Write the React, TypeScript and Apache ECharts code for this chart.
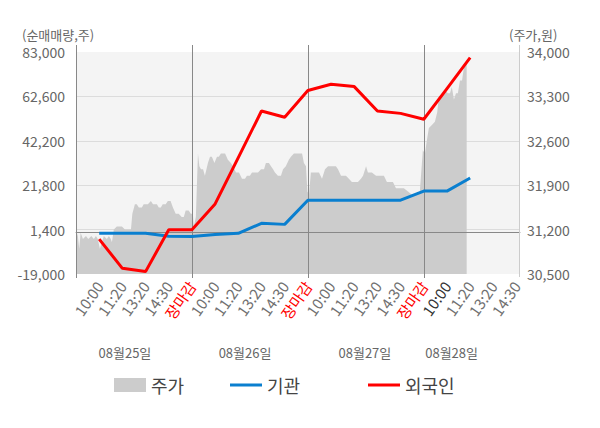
import React, { useEffect, useRef } from 'react';
import * as echarts from 'echarts';

const FONT = 'Noto Sans CJK KR';

// x axis: slots (each slot = one investor estimate time)
const slotLabels = ['', '10:00', '11:20', '13:20', '14:30', '장마감', '10:00', '11:20', '13:20', '14:30', '장마감', '10:00', '11:20', '13:20', '14:30', '장마감', '10:00', '11:20', '13:20', '14:30'];
const labelSlots = [1, 2, 3, 4, 5, 6, 7, 8, 9, 10, 11, 12, 13, 14, 15, 16, 17, 18, 19];
const closeLabel = '장마감';
const currentDayOpenSlot = 16;
const daySeparatorSlots = [5, 10, 15];
const dayLabels = ['08월25일', '08월26일', '08월27일', '08월28일'];
const dayLabelSlots = [2.11, 7.29, 12.46, 16.2];
const xMax = 19.15;

// y axes
const volumeTicks = [-19000, 1400, 21800, 42200, 62600, 83000];
const volumeSplitTicks = [1400, 21800, 42200, 62600];
const priceTicks = [30500, 31200, 31900, 32600, 33300, 34000];

// investor net buying (shares)
const investorSlots = [1, 2, 3, 4, 5, 6, 7, 8, 9, 10, 11, 12, 13, 14, 15, 16, 17];
const institutionNet = [-300, -300, -300, -1700, -1800, -800, -300, 4300, 3800, 14900, 14900, 14900, 14900, 14900, 19100, 19100, 25100];
const foreignNet = [-3000, -16400, -17900, 1300, 1300, 13200, 34500, 55900, 53000, 65300, 68200, 67100, 55900, 54800, 52100, 66200, 80400];

// stock price (won), positions in slot units
const priceSlots = [
  0, 0.08, 0.14, 0.2, 0.3, 0.43, 0.53, 0.66, 0.77, 0.86, 0.94, 1.03, 1.12, 1.2, 1.33, 1.42, 1.5, 1.55, 1.63, 1.76, 1.89, 1.98, 2.11, 2.28, 2.37, 2.43, 2.54, 2.62, 2.71, 2.84, 2.92, 3.01, 3.1, 3.23, 3.32, 3.39, 3.49, 3.57, 3.66, 3.74, 3.87, 3.96, 4.08, 4.18, 4.3, 4.43, 4.56, 4.65, 4.73, 4.86, 4.95, 5.04, 5.08, 5.17,
  5.26, 5.32, 5.39, 5.48, 5.56, 5.69, 5.78, 5.86, 5.97, 6.08, 6.16, 6.25, 6.34, 6.43, 6.55, 6.68, 6.77, 6.9, 7.03, 7.16, 7.29, 7.37, 7.5, 7.59, 7.76, 7.85, 7.98, 8.11, 8.19, 8.32, 8.41, 8.5, 8.58, 8.71, 8.84, 8.93, 9.05, 9.18, 9.27, 9.4, 9.53, 9.66, 9.75, 9.83, 9.92,
  9.98, 10.05, 10.13, 10.22, 10.35, 10.48, 10.61, 10.74, 10.87, 11.0, 11.12, 11.21, 11.3, 11.43, 11.56, 11.64, 11.77, 11.9, 12.03, 12.16, 12.29, 12.38, 12.51, 12.59, 12.76, 12.94, 13.11, 13.28, 13.41, 13.54, 13.67, 13.8, 13.97, 14.14, 14.32, 14.49, 14.66, 14.83,
  14.96, 15.05, 15.13, 15.22, 15.35, 15.48, 15.58, 15.65, 15.78, 15.91, 16.04, 16.13, 16.21, 16.3, 16.39, 16.47, 16.56, 16.65, 16.73, 16.85,
];
const priceValues = [
  31200, 31100, 30900, 31150, 31050, 31100, 31050, 31100, 31050, 31100, 31050, 30900, 31000, 31100, 31050, 31100, 31050, 31000, 31200, 31250, 31250, 31250, 31200, 31200, 31200, 31450, 31600, 31600, 31550, 31550, 31600, 31600, 31600, 31650, 31600, 31600, 31600, 31550, 31550, 31600, 31600, 31650, 31650, 31550, 31450, 31450, 31400, 31400, 31500, 31500, 31450, 31450, 31250, 31400,
  32400, 32200, 32150, 32150, 32050, 32250, 32350, 32350, 32250, 32350, 32350, 32400, 32400, 32400, 32300, 32250, 32200, 32100, 32100, 32000, 32000, 32050, 32050, 32100, 32100, 32100, 32150, 32150, 32250, 32250, 32200, 32150, 32100, 32050, 32050, 32150, 32200, 32300, 32350, 32400, 32400, 32400, 32400, 32250, 32200,
  31800, 31750, 32100, 32100, 32100, 32100, 32000, 32150, 32200, 32200, 32200, 32200, 32150, 32050, 32050, 32050, 32000, 31950, 31950, 31950, 32000, 32050, 32200, 32100, 32100, 32050, 32050, 32050, 31950, 31950, 31950, 31850, 31850, 31850, 31800, 31750, 31750, 31800,
  32450, 32400, 32600, 32800, 32850, 32900, 33050, 33300, 33300, 33400, 33350, 33350, 33450, 33250, 33350, 33350, 33550, 33550, 33750, 33850,
];

const fmt = (v: number) => v.toLocaleString('en-US');

export default function App() {
  const ref = useRef<HTMLDivElement>(null);

  useEffect(() => {
    if (!ref.current) return;
    const chart = echarts.init(ref.current, undefined, { renderer: 'svg' });

    const legendBase = {
      top: 376,
      padding: 0,
      itemWidth: 32,
      itemGap: 10,
      selectedMode: false,
      textStyle: { fontSize: 18, color: '#444', fontFamily: FONT },
    };

    const richBase = { fontSize: 15, fontFamily: FONT };

    const option: any = {
      animation: false,
      backgroundColor: '#ffffff',
      textStyle: { fontFamily: FONT },
      grid: {
        left: 76,
        right: 80,
        top: 52,
        bottom: 154,
        containLabel: false,
        show: true,
        backgroundColor: '#f4f4f4',
        borderWidth: 0,
      },
      legend: [
        { ...legendBase, left: 114, itemHeight: 14, data: [{ name: '주가', icon: 'rect' }] },
        { ...legendBase, left: 230, itemHeight: 3, data: [{ name: '기관', icon: 'rect' }] },
        { ...legendBase, left: 368, itemHeight: 3, data: [{ name: '외국인', icon: 'rect' }] },
      ],
      xAxis: {
        type: 'value',
        min: 0,
        max: xMax,
        axisLine: { show: true, lineStyle: { color: '#999', width: 1 } },
        axisTick: { show: false, customValues: [0] },
        splitLine: { show: false },
        axisLabel: {
          customValues: labelSlots,
          rotate: 55,
          margin: 9,
          formatter: (v: number) => {
            const i = Math.round(v);
            const t = slotLabels[i] || '';
            if (t === closeLabel) return `{r|${t}}`;
            if (i === currentDayOpenSlot) return `{d|${t}}`;
            return `{g|${t}}`;
          },
          rich: {
            r: { ...richBase, color: '#ff0000' },
            d: { ...richBase, color: '#333333' },
            g: { ...richBase, color: '#707070' },
          },
        },
      },
      yAxis: [
        {
          type: 'value',
          min: volumeTicks[0],
          max: volumeTicks[volumeTicks.length - 1],
          position: 'left',
          axisLine: { show: false },
          axisTick: { show: false, customValues: volumeSplitTicks },
          splitLine: { show: true, lineStyle: { color: '#dcdcdc', width: 1 } },
          axisLabel: {
            customValues: volumeTicks,
            formatter: (v: number) => fmt(v),
            color: '#666',
            fontSize: 14,
            fontFamily: FONT,
            margin: 11,
          },
        },
        {
          type: 'value',
          min: priceTicks[0],
          max: priceTicks[priceTicks.length - 1],
          position: 'right',
          axisLine: { show: false },
          axisTick: { show: false, customValues: priceTicks },
          splitLine: { show: false },
          axisLabel: {
            customValues: priceTicks,
            formatter: (v: number) => fmt(v),
            color: '#666',
            fontSize: 14,
            fontFamily: FONT,
            margin: 7,
          },
        },
      ],
      series: [
        {
          name: '주가',
          type: 'line',
          yAxisIndex: 1,
          data: priceSlots.map((s, i) => [s, priceValues[i]]),
          symbol: 'none',
          color: '#cccccc',
          itemStyle: { color: '#cccccc' },
          lineStyle: { width: 0, color: '#cccccc' },
          areaStyle: { color: '#cccccc', opacity: 1, origin: 'start' },
          z: 2,
          silent: true,
        },
        {
          name: '기관',
          type: 'line',
          yAxisIndex: 0,
          data: investorSlots.map((s, i) => [s, institutionNet[i]]),
          symbol: 'none',
          color: '#0a7fcf',
          itemStyle: { color: '#0a7fcf' },
          lineStyle: { width: 3, color: '#0a7fcf' },
          z: 5,
          markLine: {
            silent: true,
            symbol: 'none',
            label: { show: false },
            lineStyle: { color: '#888', width: 1, type: 'solid' },
            data: [{ yAxis: 0 }],
            z: 3,
          },
        },
        {
          name: '외국인',
          type: 'line',
          yAxisIndex: 0,
          data: investorSlots.map((s, i) => [s, foreignNet[i]]),
          symbol: 'none',
          color: '#ff0000',
          itemStyle: { color: '#ff0000' },
          lineStyle: { width: 3, color: '#ff0000' },
          z: 6,
        },
      ],
    };

    chart.setOption(option);

    const xs = (s: number) => Math.round(chart.convertToPixel({ xAxisIndex: 0 }, s) as number) + 0.5;
    const graphics: any[] = [];
    [0, ...daySeparatorSlots].forEach((s) => {
      const x = xs(s);
      graphics.push({
        type: 'line',
        z: 4,
        silent: true,
        shape: { x1: x, y1: 45, x2: x, y2: 278 },
        style: { stroke: '#888', lineWidth: 1 },
      });
    });
    const xr = xs(xMax) - 1;
    graphics.push({
      type: 'line',
      z: 4,
      silent: true,
      shape: { x1: xr, y1: 45, x2: xr, y2: 277 },
      style: { stroke: '#cccccc', lineWidth: 1 },
    });
    dayLabels.forEach((t, i) => {
      graphics.push({
        type: 'text',
        silent: true,
        x: chart.convertToPixel({ xAxisIndex: 0 }, dayLabelSlots[i]) as number,
        y: 352,
        style: { text: t, fill: '#666', fontSize: 13, fontFamily: FONT, align: 'center', verticalAlign: 'middle' },
      });
    });
    graphics.push({
      type: 'text',
      silent: true,
      x: 22,
      y: 34,
      style: { text: '(순매매량,주)', fill: '#666', fontSize: 13, fontFamily: FONT, align: 'left', verticalAlign: 'middle' },
    });
    graphics.push({
      type: 'text',
      silent: true,
      x: 509,
      y: 34,
      style: { text: '(주가,원)', fill: '#666', fontSize: 13, fontFamily: FONT, align: 'left', verticalAlign: 'middle' },
    });
    chart.setOption({ graphic: graphics });

    return () => chart.dispose();
  }, []);

  return <div ref={ref} style={{ position: 'fixed', left: 0, top: 0, width: 600, height: 428 }} />;
}
